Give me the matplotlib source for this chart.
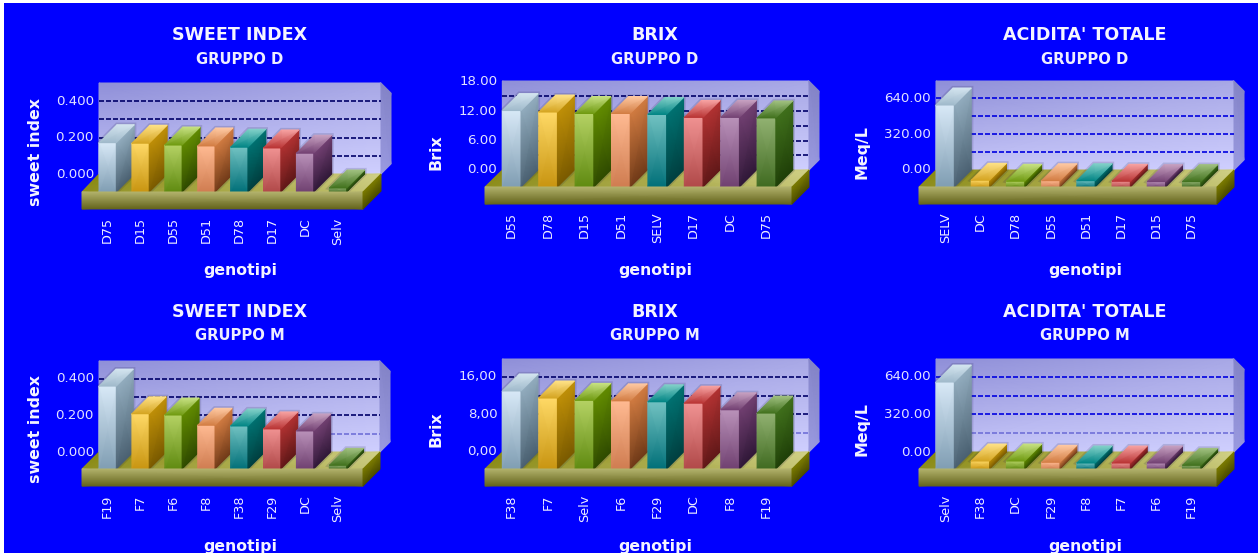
import numpy as np
from matplotlib import pyplot as plt
from matplotlib.colors import to_rgb
from matplotlib.patches import Rectangle

W, H = 1258, 557

# valori letti per ogni grafico
gen_sweet_d = ['D75', 'D15', 'D55', 'D51', 'D78', 'D17', 'DC', 'Selv']
val_sweet_d = [0.271, 0.268, 0.258, 0.253, 0.246, 0.242, 0.213, 0.022]
gen_brix_d = ['D55', 'D78', 'D15', 'D51', 'SELV', 'D17', 'DC', 'D75']
val_brix_d = [15.6, 15.3, 15.0, 15.0, 14.8, 14.2, 14.2, 14.1]
gen_acid_d = ['SELV', 'DC', 'D78', 'D55', 'D51', 'D17', 'D15', 'D75']
val_acid_d = [732, 60, 51, 56, 56, 51, 48, 48]
gen_sweet_m = ['F19', 'F7', 'F6', 'F8', 'F38', 'F29', 'DC', 'Selv']
val_sweet_m = [0.453, 0.302, 0.295, 0.239, 0.235, 0.219, 0.208, 0.020]
gen_brix_m = ['F38', 'F7', 'Selv', 'F6', 'F29', 'DC', 'F8', 'F19']
val_brix_m = [16.6, 15.1, 14.6, 14.5, 14.3, 14.0, 12.6, 11.9]
gen_acid_m = ['Selv', 'F38', 'DC', 'F29', 'F8', 'F7', 'F6', 'F19']
val_acid_m = [742, 68, 68, 57, 51, 51, 51, 31]

# colori barre: fronte (alto, basso), lato (alto, basso), tetto (davanti, dietro)
bar_colors = [
    ('#d8e9f7', '#7f9db2', '#93adbf', '#4a6071', '#9fb9ca', '#d4e5f0'),
    ('#ffd966', '#c89410', '#c09008', '#7a5a00', '#d4a420', '#ffe288'),
    ('#b5d264', '#5f8a10', '#628c00', '#2f4a00', '#6f9a10', '#c8e284'),
    ('#ffba92', '#cf7c50', '#d27c42', '#703a18', '#d27c42', '#ffcaa4'),
    ('#72c2c2', '#006f78', '#007272', '#003f40', '#008484', '#84d2ca'),
    ('#f09292', '#b04848', '#b23232', '#601818', '#b83232', '#f8a4a4'),
    ('#ba92ba', '#6f4070', '#724072', '#301838', '#724072', '#c8a2c2'),
    ('#92b272', '#3f6a20', '#40701c', '#1f3f08', '#40701c', '#a2c282'),
]


def quad(ax, bl, br, tl, tr, c_bl, c_br, c_tl, c_tr, z):
    # quadrilatero sfumato con i colori sui quattro vertici
    X = [[bl[0], br[0]], [tl[0], tr[0]]]
    Y = [[bl[1], br[1]], [tl[1], tr[1]]]
    C = np.array([[to_rgb(c_bl), to_rgb(c_br)], [to_rgb(c_tl), to_rgb(c_tr)]])
    ax.pcolormesh(X, Y, C, shading='gouraud', zorder=z, clip_on=False)


def chart(title, group, ylabel, genotipi, valori, ticks, tick_fmt, grid_vals, grid_colors,
          sl, sr, floor, wall_top, wall_bottom, first, step, bw, ppu, cx, row_y):
    depth = floor - wall_bottom
    slab = 17
    ax = fig.add_axes([sl / W, 1 - (floor + slab) / H, (sr - sl) / W, (floor + slab - wall_top) / H])
    xmin, xmax = (sl - first) / step, (sr - first) / step
    ymin, ymax = -slab / ppu, (floor - wall_top) / ppu
    ddx, ddy = depth / step, depth / ppu
    w = bw / step
    xw = xmax + ddx
    sx, sy = 10 / step, 10 / ppu

    # parete di fondo e parete laterale
    quad(ax, (0, ddy), (xw, ddy), (0, ymax), (xw, ymax),
         '#c4c4f8', '#d0d0ff', '#8f8fd8', '#a8a8e6', 1)
    quad(ax, (xw, ddy), (xw + sx, ddy + sy), (xw, ymax), (xw + sx, ymax - sy),
         '#9c9ce2', '#9494dc', '#8484c8', '#8484c8', 1)

    for v, col in zip(grid_vals, grid_colors):
        ax.plot([0, xw], [v + ddy, v + ddy], color=col, lw=1.2, dashes=(3, 1.2), zorder=2, clip_on=False)

    # piano superiore della base
    quad(ax, (xmin, 0), (xmax, 0), (0, ddy), (xw, ddy), '#8e8e1e', '#c2c272', '#8a8a10', '#d2d288', 3)

    for i, v in enumerate(valori):
        c = bar_colors[i]
        # alone scuro intorno alla barra
        ax.fill([i, i + ddx, i + w + ddx, i + w + ddx, i + w], [v, v + ddy, v + ddy, ddy, 0],
                facecolor='#20204a', edgecolor='#20204a', lw=3, alpha=0.16, zorder=3.5, clip_on=False)
        quad(ax, (i, 0), (i + w, 0), (i, v), (i + w, v), c[1], c[1], c[0], c[0], 4)
        quad(ax, (i + w, 0), (i + w + ddx, ddy), (i + w, v), (i + w + ddx, v + ddy), c[3], c[3], c[2], c[2], 4)
        quad(ax, (i, v), (i + w, v), (i + ddx, v + ddy), (i + w + ddx, v + ddy), c[4], c[4], c[5], c[5], 4)

    # fronte e lato della base
    quad(ax, (xmin, ymin), (xmax, ymin), (xmin, 0), (xmax, 0), '#62621a', '#62621a', '#b4b46e', '#b4b46e', 5)
    quad(ax, (xmax, ymin), (xmax + ddx, ymin + ddy), (xmax, 0), (xmax + ddx, ddy),
         '#4a4a00', '#4a4a00', '#7c7c00', '#7c7c00', 5)

    for v, lab in zip(ticks, tick_fmt):
        ax.text(-5 / step, v + ddy, lab, ha='right', va='center', color='#e2e2ff', fontsize=9.6, clip_on=False)

    ax.set_xlim(xmin, xmax)
    ax.set_ylim(ymin, ymax)
    ax.set_xticks(np.arange(len(genotipi)) + w / 2)
    ax.set_xticklabels(genotipi, rotation=90, color='#eeeeff', fontsize=9.2, va='top')
    ax.set_yticks([])
    ax.tick_params(axis='x', length=0, pad=6)
    for s in ax.spines.values():
        s.set_visible(False)
    ax.patch.set_visible(False)

    fig.text(cx / W, 1 - (row_y + 35) / H, title, ha='center', va='center', color='#f4f4ff',
             fontsize=12.6, fontweight='bold')
    fig.text(cx / W, 1 - (row_y + 59) / H, group, ha='center', va='center', color='#eeeeff',
             fontsize=10.6, fontweight='bold')
    fig.text(cx / W, 1 - (row_y + 270) / H, 'genotipi', ha='center', va='center', color='#f4f4ff',
             fontsize=11.3, fontweight='bold')
    return ax


fig = plt.figure(figsize=(W / 100, H / 100), dpi=100, facecolor='#0000ff')

lite = '#7070d8'
navy = '#000068'
blue = '#0000e0'
pannelli = [
    ('SWEET INDEX', 'GRUPPO D', 'sweet index', gen_sweet_d, val_sweet_d, [0, 0.2, 0.4], ['0.000', '0.200', '0.400'],
     [0.1, 0.2, 0.3, 0.4], [navy, navy, navy, navy], 82, 363, 192, 83, 174, 99, 32.9, 17.3, 182, 240, 0, 35),
    ('BRIX', 'GRUPPO D', 'Brix', gen_brix_d, val_brix_d, [0, 6, 12, 18], ['0.00', '6.00', '12.00', '18.00'],
     [3, 6, 9, 12, 15], [navy] * 5, 485, 792, 187, 81, 170, 502.3, 36.4, 18.7, 4.9, 655, 0, 436),
    ("ACIDITA' TOTALE", 'GRUPPO D', 'Meq/L', gen_acid_d, val_acid_d, [0, 320, 640], ['0.00', '320.00', '640.00'],
     [160, 320, 480, 640], [blue] * 4, 919, 1217, 187, 81, 170, 936, 35.2, 18.3, 0.112, 1085, 0, 862),
    ('SWEET INDEX', 'GRUPPO M', 'sweet index', gen_sweet_m, val_sweet_m, [0, 0.2, 0.4], ['0.000', '0.200', '0.400'],
     [0.1, 0.2, 0.3, 0.4], [lite, navy, navy, navy], 82, 363, 469, 361, 452, 99, 32.9, 17.3, 183, 240, 277, 35),
    ('BRIX', 'GRUPPO M', 'Brix', gen_brix_m, val_brix_m, [0, 8, 16], ['0,00', '8,00', '16,00'],
     [4, 8, 12, 16], [lite, navy, navy, navy], 485, 792, 469, 359, 452, 502.3, 36.4, 18.7, 4.7, 655, 277, 436),
    ("ACIDITA' TOTALE", 'GRUPPO M', 'Meq/L', gen_acid_m, val_acid_m, [0, 320, 640], ['0.00', '320.00', '640.00'],
     [160, 320, 480, 640], [lite, blue, blue, blue], 919, 1217, 469, 359, 452, 936, 35.2, 18.3, 0.1172, 1085, 277, 862),
]

for p in pannelli:
    chart(*p[:20])
    fig.text(p[20] / W, 1 - (p[19] + 152) / H, p[2], rotation=90, ha='center', va='center', color='#f4f4ff',
             fontsize=11.4, fontweight='bold')

# bordo bianco sopra a tutto
top = fig.add_axes([0, 0, 1, 1], zorder=20)
top.set_xlim(0, W)
top.set_ylim(H, 0)
top.axis('off')
top.add_patch(Rectangle((0, 0), W, 3, color='white', lw=0))
top.add_patch(Rectangle((0, 0), 4, H, color='white', lw=0))
top.add_patch(Rectangle((0, 553), W, 4, color='white', lw=0))

plt.savefig('out.png', dpi=100, facecolor=fig.get_facecolor())
